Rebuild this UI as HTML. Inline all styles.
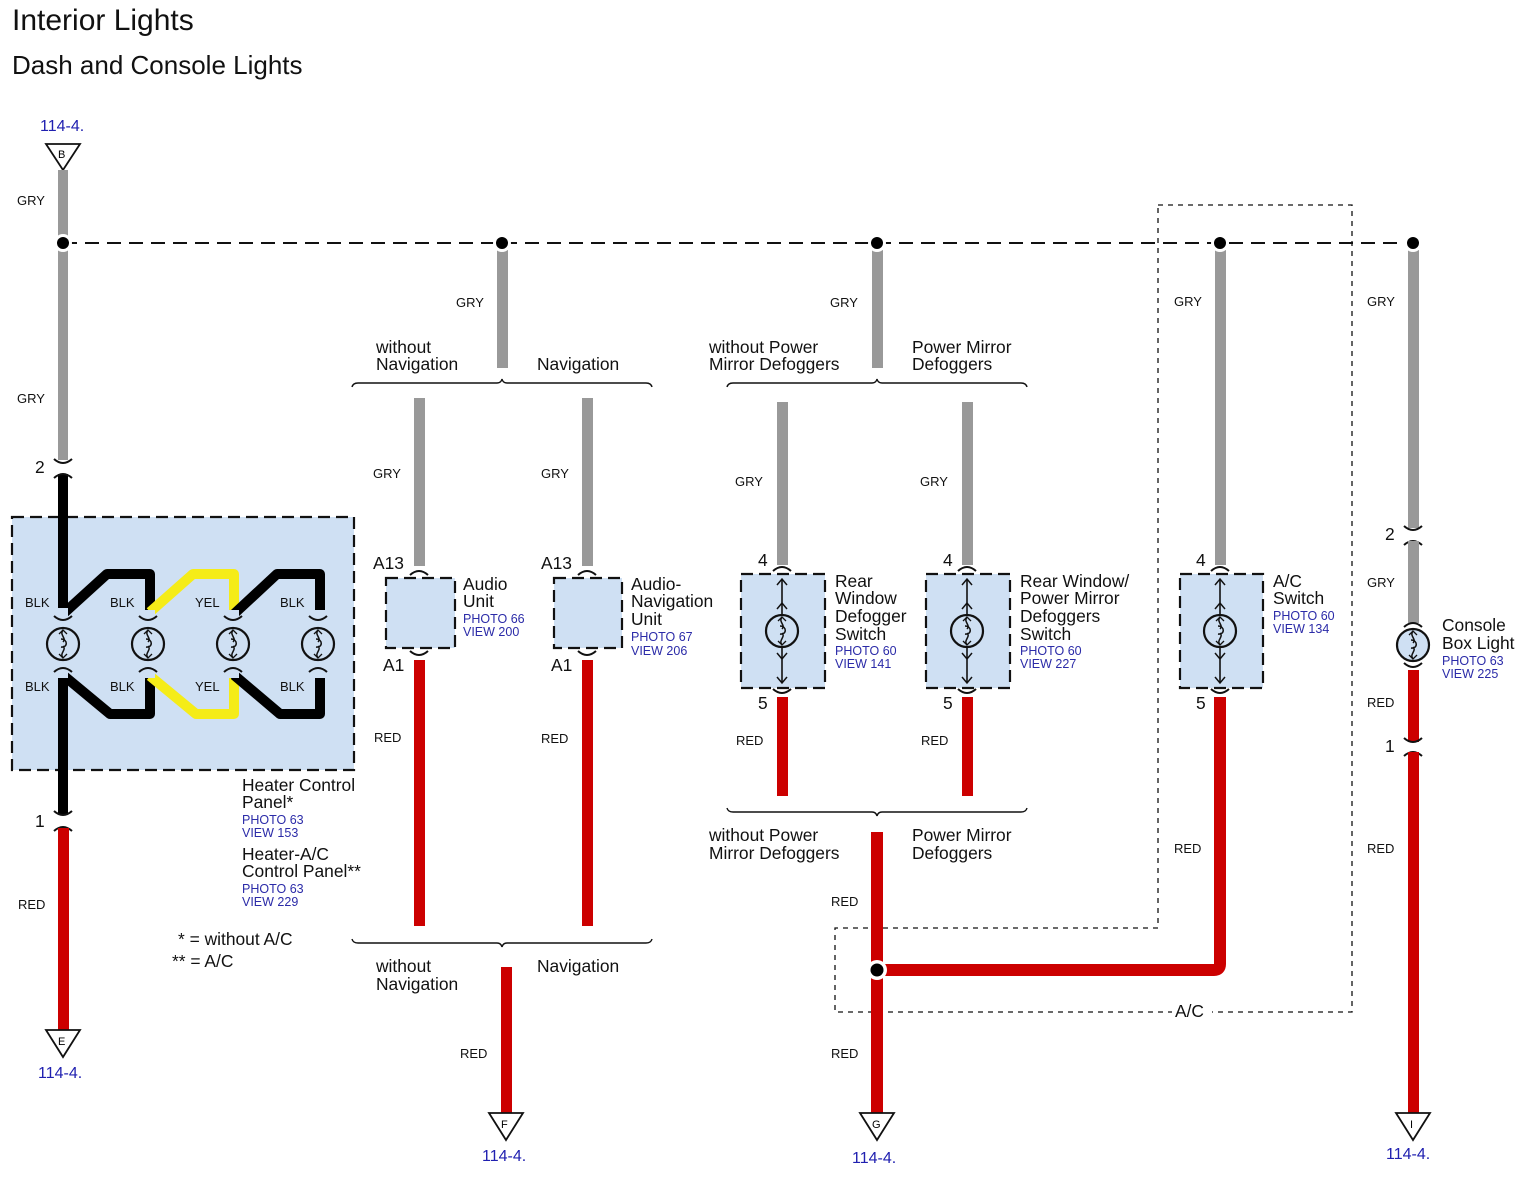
<!DOCTYPE html>
<html><head><meta charset="utf-8"><style>
html,body{margin:0;padding:0;background:#fff;}
svg{display:block;font-family:"Liberation Sans",Arial,sans-serif;}
.t{font-size:17.4px;fill:#111;}
.s{font-size:13px;fill:#111;}
.b{font-size:12.5px;fill:#2b2ba8;}
.r{font-size:16px;fill:#2020b0;}
.box{fill:#cfe0f3;stroke:#111;stroke-width:2.2;stroke-dasharray:12,6;}
.cap{fill:none;stroke:#111;stroke-width:2;}
</style></head><body>
<svg width="1526" height="1190" viewBox="0 0 1526 1190" xmlns="http://www.w3.org/2000/svg">
<defs>
<g id="lamp">
<circle cx="0" cy="0" r="16" fill="#cfe0f3" stroke="#111" stroke-width="2.2"/>
<path d="M0,-14 C-4,-9 4,-6 0,-2 M0,2 C4,6 -4,9 0,14" fill="none" stroke="#111" stroke-width="1.5"/>
<path d="M-2,-5 C5,-5 5,4 -2,3" fill="none" stroke="#111" stroke-width="1.5"/>
<path d="M-4,-10 L0,-14 L4,-10 M-4,10 L0,14 L4,10" fill="none" stroke="#111" stroke-width="1.3"/>
</g>
<g id="sw">
<line x1="0" y1="-52" x2="0" y2="52" stroke="#111" stroke-width="1.6"/>
<path d="M-5,-46 L0,-52 L5,-46 M-5,-22 L0,-28 L5,-22 M-5,22 L0,28 L5,22 M-5,46 L0,52 L5,46" fill="none" stroke="#111" stroke-width="1.5"/>
<use href="#lamp"/>
</g>
<path id="capT" d="M-9,4 Q0,-4 9,4" class="cap"/>
<path id="capB" d="M-9,-4 Q0,4 9,-4" class="cap"/>
</defs>

<text x="12" y="30" style="font-size:30px" fill="#111">Interior Lights</text>
<text x="12" y="74" style="font-size:26px" fill="#111">Dash and Console Lights</text>

<line x1="63" y1="243" x2="1413" y2="243" stroke="#111" stroke-width="2" stroke-dasharray="14,8"/>

<path d="M1158,205 L1352,205 L1352,1012 L835,1012 L835,928 L1158,928 Z" fill="none" stroke="#111" stroke-width="1.3" stroke-dasharray="5,5"/>
<rect x="1172" y="1000" width="40" height="20" fill="#fff"/>
<text x="1175" y="1017" class="t">A/C</text>

<text x="40" y="131" class="r">114-4.</text>
<polygon points="46,144 80,144 63,170" fill="#fff" stroke="#111" stroke-width="1.8"/>
<text x="58" y="158" style="font-size:11px">B</text>
<rect x="58" y="170" width="10" height="290" fill="#999"/>
<text x="17" y="205" class="s">GRY</text>
<text x="17" y="403" class="s">GRY</text>
<rect x="12" y="517" width="342" height="253" class="box"/>
<rect x="58" y="474" width="10" height="340" fill="#000"/>
<use href="#capB" x="63" y="463"/><use href="#capT" x="63" y="474"/>
<text x="35" y="473" class="t">2</text>
<use href="#capB" x="63" y="815"/><use href="#capT" x="63" y="827"/>
<text x="35" y="827" class="t">1</text>
<rect x="58" y="828" width="11" height="202" fill="#cc0000"/>
<text x="18" y="909" class="s">RED</text>
<polygon points="46,1030 80,1030 63,1057" fill="#fff" stroke="#111" stroke-width="1.8"/>
<text x="58" y="1045" style="font-size:11px">E</text>
<text x="38" y="1078" class="r">114-4.</text>
<circle cx="63" cy="243" r="9" fill="#fff"/><circle cx="63" cy="243" r="6" fill="#000"/>

<g fill="none" stroke-width="10" stroke-linejoin="round">
<path d="M63,614 L107,574 L150,574 L150,614" stroke="#000"/>
<path d="M150,612 L193,574 L234,574 L234,614" stroke="#f5ec18"/>
<path d="M234,614 L277,574 L320,574 L320,614" stroke="#000"/>
<path d="M63,675 L110,714 L150,714 L150,675" stroke="#000"/>
<path d="M150,676 L196,714 L234,714 L234,676" stroke="#f5ec18"/>
<path d="M234,675 L280,714 L320,714 L320,675" stroke="#000"/>
</g>
<rect x="58" y="608" width="10" height="70" fill="#cfe0f3"/>
<rect x="145" y="610" width="10" height="68" fill="#cfe0f3"/>
<rect x="229" y="610" width="10" height="68" fill="#cfe0f3"/>
<rect x="315" y="610" width="10" height="68" fill="#cfe0f3"/>
<use href="#capB" x="63" y="620"/><use href="#capT" x="63" y="668"/>
<use href="#capB" x="148" y="620"/><use href="#capT" x="148" y="668"/>
<use href="#capB" x="233" y="620"/><use href="#capT" x="233" y="668"/>
<use href="#capB" x="318" y="620"/><use href="#capT" x="318" y="668"/>
<use href="#lamp" x="63" y="644"/><use href="#lamp" x="148" y="644"/>
<use href="#lamp" x="233" y="644"/><use href="#lamp" x="318" y="644"/>
<text x="25" y="607" class="s">BLK</text><text x="110" y="607" class="s">BLK</text>
<text x="195" y="607" class="s">YEL</text><text x="280" y="607" class="s">BLK</text>
<text x="25" y="691" class="s">BLK</text><text x="110" y="691" class="s">BLK</text>
<text x="195" y="691" class="s">YEL</text><text x="280" y="691" class="s">BLK</text>
<text x="242" y="791" class="t">Heater Control</text>
<text x="242" y="808" class="t">Panel*</text>
<text x="242" y="824" class="b">PHOTO 63</text>
<text x="242" y="837" class="b">VIEW 153</text>
<text x="242" y="860" class="t">Heater-A/C</text>
<text x="242" y="877" class="t">Control Panel**</text>
<text x="242" y="893" class="b">PHOTO 63</text>
<text x="242" y="906" class="b">VIEW 229</text>
<text x="178" y="945" class="t">* = without A/C</text>
<text x="172" y="967" class="t">** = A/C</text>

<rect x="497" y="250" width="11" height="118" fill="#999"/>
<circle cx="502" cy="243" r="9" fill="#fff"/><circle cx="502" cy="243" r="6" fill="#000"/>
<text x="456" y="307" class="s">GRY</text>
<text x="376" y="353" class="t">without</text>
<text x="376" y="370" class="t">Navigation</text>
<text x="537" y="370" class="t">Navigation</text>
<path d="M352,387 Q353,383 358,383 L497,383 Q501,383 502,379 Q503,383 507,383 L646,383 Q651,383 652,387" fill="none" stroke="#111" stroke-width="1.4"/>
<rect x="414" y="398" width="11" height="168" fill="#999"/>
<rect x="582" y="398" width="11" height="168" fill="#999"/>
<text x="373" y="478" class="s">GRY</text>
<text x="541" y="478" class="s">GRY</text>
<use href="#capT" x="419" y="571"/><use href="#capT" x="587" y="571"/>
<text x="373" y="569" class="t">A13</text><text x="541" y="569" class="t">A13</text>
<rect x="386" y="578" width="69" height="70" class="box"/>
<rect x="554" y="578" width="68" height="70" class="box"/>
<use href="#capB" x="419" y="655"/><use href="#capB" x="587" y="655"/>
<text x="383" y="671" class="t">A1</text><text x="551" y="671" class="t">A1</text>
<rect x="414" y="660" width="11" height="266" fill="#cc0000"/>
<rect x="582" y="660" width="11" height="266" fill="#cc0000"/>
<text x="374" y="742" class="s">RED</text><text x="541" y="743" class="s">RED</text>
<text x="463" y="590" class="t">Audio</text>
<text x="463" y="607" class="t">Unit</text>
<text x="463" y="623" class="b">PHOTO 66</text>
<text x="463" y="636" class="b">VIEW 200</text>
<text x="631" y="590" class="t">Audio-</text>
<text x="631" y="607" class="t">Navigation</text>
<text x="631" y="625" class="t">Unit</text>
<text x="631" y="641" class="b">PHOTO 67</text>
<text x="631" y="655" class="b">VIEW 206</text>
<path d="M352,939 Q353,943 358,943 L497,943 Q501,943 502,947 Q503,943 507,943 L646,943 Q651,943 652,939" fill="none" stroke="#111" stroke-width="1.4"/>
<text x="376" y="972" class="t">without</text>
<text x="376" y="990" class="t">Navigation</text>
<text x="537" y="972" class="t">Navigation</text>
<rect x="501" y="967" width="11" height="146" fill="#cc0000"/>
<text x="460" y="1058" class="s">RED</text>
<polygon points="489,1113 523,1113 506,1140" fill="#fff" stroke="#111" stroke-width="1.8"/>
<text x="501" y="1128" style="font-size:11px">F</text>
<text x="482" y="1161" class="r">114-4.</text>

<rect x="872" y="250" width="11" height="118" fill="#999"/>
<circle cx="877" cy="243" r="9" fill="#fff"/><circle cx="877" cy="243" r="6" fill="#000"/>
<text x="830" y="307" class="s">GRY</text>
<text x="709" y="353" class="t">without Power</text>
<text x="709" y="370" class="t">Mirror Defoggers</text>
<text x="912" y="353" class="t">Power Mirror</text>
<text x="912" y="370" class="t">Defoggers</text>
<path d="M727,387 Q728,383 733,383 L872,383 Q876,383 877,379 Q878,383 882,383 L1021,383 Q1026,383 1027,387" fill="none" stroke="#111" stroke-width="1.4"/>
<rect x="777" y="402" width="11" height="163" fill="#999"/>
<rect x="962" y="402" width="11" height="163" fill="#999"/>
<text x="735" y="486" class="s">GRY</text><text x="920" y="486" class="s">GRY</text>
<use href="#capT" x="782" y="567"/><use href="#capT" x="967" y="567"/>
<text x="758" y="566" class="t">4</text><text x="943" y="566" class="t">4</text>
<rect x="741" y="574" width="84" height="114" class="box"/>
<rect x="926" y="574" width="84" height="114" class="box"/>
<use href="#sw" x="782" y="631"/><use href="#sw" x="967" y="631"/>
<use href="#capB" x="782" y="693"/><use href="#capB" x="967" y="693"/>
<text x="758" y="709" class="t">5</text><text x="943" y="709" class="t">5</text>
<rect x="777" y="697" width="11" height="99" fill="#cc0000"/>
<rect x="962" y="697" width="11" height="99" fill="#cc0000"/>
<text x="736" y="745" class="s">RED</text><text x="921" y="745" class="s">RED</text>
<text x="835" y="587" class="t">Rear</text>
<text x="835" y="604" class="t">Window</text>
<text x="835" y="622" class="t">Defogger</text>
<text x="835" y="640" class="t">Switch</text>
<text x="835" y="655" class="b">PHOTO 60</text>
<text x="835" y="668" class="b">VIEW 141</text>
<text x="1020" y="587" class="t">Rear Window/</text>
<text x="1020" y="604" class="t">Power Mirror</text>
<text x="1020" y="622" class="t">Defoggers</text>
<text x="1020" y="640" class="t">Switch</text>
<text x="1020" y="655" class="b">PHOTO 60</text>
<text x="1020" y="668" class="b">VIEW 227</text>
<path d="M727,808 Q728,812 733,812 L872,812 Q876,812 877,816 Q878,812 882,812 L1021,812 Q1026,812 1027,808" fill="none" stroke="#111" stroke-width="1.4"/>
<text x="709" y="841" class="t">without Power</text>
<text x="709" y="859" class="t">Mirror Defoggers</text>
<text x="912" y="841" class="t">Power Mirror</text>
<text x="912" y="859" class="t">Defoggers</text>
<rect x="871" y="832" width="12" height="281" fill="#cc0000"/>
<path d="M877,970 L1214,970 Q1220,970 1220,964 L1220,697" fill="none" stroke="#cc0000" stroke-width="12"/>
<circle cx="877" cy="970" r="10" fill="#fff"/><circle cx="877" cy="970" r="6.5" fill="#000"/>
<text x="831" y="906" class="s">RED</text>
<text x="831" y="1058" class="s">RED</text>
<polygon points="860,1113 894,1113 877,1140" fill="#fff" stroke="#111" stroke-width="1.8"/>
<text x="872" y="1128" style="font-size:11px">G</text>
<text x="852" y="1163" class="r">114-4.</text>

<rect x="1215" y="250" width="11" height="315" fill="#999"/>
<circle cx="1220" cy="243" r="9" fill="#fff"/><circle cx="1220" cy="243" r="6" fill="#000"/>
<text x="1174" y="306" class="s">GRY</text>
<use href="#capT" x="1220" y="567"/>
<text x="1196" y="566" class="t">4</text>
<rect x="1180" y="574" width="83" height="114" class="box"/>
<use href="#sw" x="1220" y="631"/>
<use href="#capB" x="1220" y="693"/>
<text x="1196" y="709" class="t">5</text>
<text x="1174" y="853" class="s">RED</text>
<text x="1273" y="587" class="t">A/C</text>
<text x="1273" y="604" class="t">Switch</text>
<text x="1273" y="620" class="b">PHOTO 60</text>
<text x="1273" y="633" class="b">VIEW 134</text>

<rect x="1408" y="250" width="11" height="278" fill="#999"/>
<circle cx="1413" cy="243" r="9" fill="#fff"/><circle cx="1413" cy="243" r="6" fill="#000"/>
<text x="1367" y="306" class="s">GRY</text>
<use href="#capB" x="1413" y="530"/><use href="#capT" x="1413" y="541"/>
<text x="1385" y="540" class="t">2</text>
<rect x="1408" y="541" width="11" height="82" fill="#999"/>
<text x="1367" y="587" class="s">GRY</text>
<use href="#capT" x="1413" y="623"/>
<use href="#lamp" x="1413" y="645"/>
<use href="#capB" x="1413" y="667"/>
<rect x="1408" y="670" width="11" height="72" fill="#cc0000"/>
<text x="1367" y="707" class="s">RED</text>
<use href="#capB" x="1413" y="742"/><use href="#capT" x="1413" y="752"/>
<text x="1385" y="752" class="t">1</text>
<rect x="1408" y="752" width="11" height="361" fill="#cc0000"/>
<text x="1367" y="853" class="s">RED</text>
<polygon points="1396,1113 1430,1113 1413,1140" fill="#fff" stroke="#111" stroke-width="1.8"/>
<text x="1410" y="1128" style="font-size:11px">I</text>
<text x="1386" y="1159" class="r">114-4.</text>
<text x="1442" y="631" class="t">Console</text>
<text x="1442" y="649" class="t">Box Light</text>
<text x="1442" y="665" class="b">PHOTO 63</text>
<text x="1442" y="678" class="b">VIEW 225</text>
</svg>
</body></html>
